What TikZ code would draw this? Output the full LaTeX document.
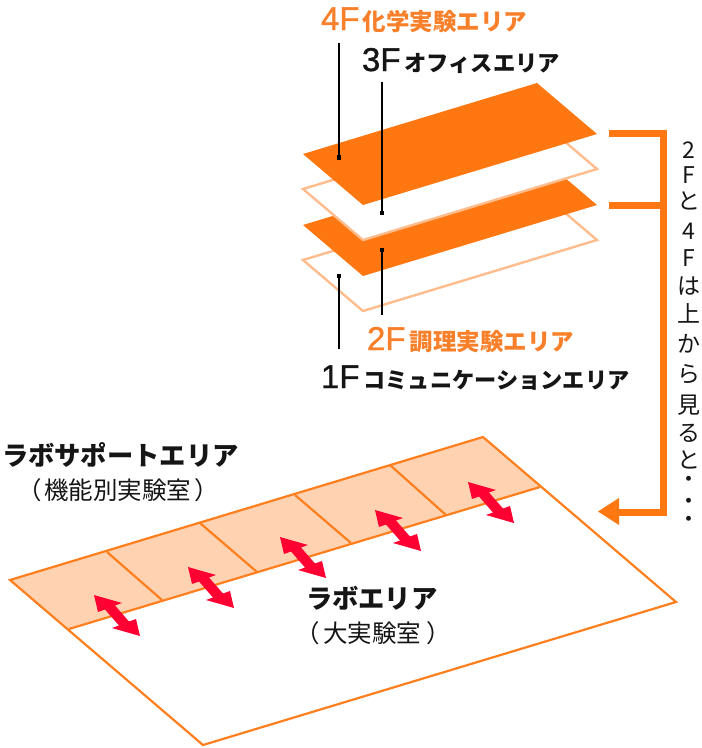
\documentclass[tikz,border=0pt]{standalone}
\usepackage{fontspec}
\usetikzlibrary{calc}
\setmainfont{Noto Sans CJK JP}
\newfontfamily\lat[FakeBold=1.2]{Liberation Sans}
\definecolor{plate}{HTML}{FF7711}
\definecolor{pale}{HTML}{FFBC8C}
\definecolor{band}{HTML}{FFD2B2}
\definecolor{linec}{HTML}{FF7F1E}
\definecolor{txto}{HTML}{F8802A}
\definecolor{redc}{HTML}{FF0033}
\definecolor{ink}{HTML}{151515}
\newcommand{\fsz}[1]{\fontsize{#1}{#1}\selectfont}
\newcommand{\flr}[4]{{\lat\fsz{33}#1}\hspace{#3}{\bfseries\fsz{#4}#2}}
\tikzset{
  x=1pt,y=-1pt,
  txtlabel/.style={anchor=base west,inner sep=0pt,outer sep=0pt},
  solidplate/.style={fill=plate,draw=none},
  openplate/.style={fill=white,draw=pale,line width=2.4pt,line join=miter},
  leader/.style={draw=black,line width=1.1pt},
  dotmark/.style={fill=black},
  floorline/.style={draw=linec,line width=2.2pt,line join=miter},
  bracket/.style={draw=plate,line width=7pt},
  dbl/.style={fill=redc,draw=none}
}
\newcommand{\dblarrow}[1]{\fill[dbl,shift={#1}] (0,0)--(28,8)--(21,10.5)--(35,26.5)--(42,24)--(46,41)--(18,33)--(25,30.5)--(11,14.5)--(4,17)--cycle;}
\begin{document}
\begin{tikzpicture}
\useasboundingbox (0,0) rectangle (702,748);
% upper plates
\draw[openplate] (303,260)--(537,189)--(597,240)--(363,311)--cycle;
\fill[solidplate] (303,225)--(537,154)--(597,205)--(363,276)--cycle;
\draw[openplate] (303,189)--(537,118)--(597,169)--(363,240)--cycle;
\fill[solidplate] (303,154)--(537,83)--(597,134)--(363,205)--cycle;
% leader ends
\coordinate (l4a) at (339,43); \coordinate (l4b) at (339,157.5);
\coordinate (l3a) at (382,82); \coordinate (l3b) at (382,213);
\coordinate (l2a) at (382,250); \coordinate (l2b) at (382,315);
\coordinate (l1a) at (339,276); \coordinate (l1b) at (339,349);
\draw[leader] (l4a)--(l4b); \draw[leader] (l3a)--(l3b);
\draw[leader] (l2a)--(l2b); \draw[leader] (l1a)--(l1b);
\fill[dotmark] ($(l4b)+(-2.2,-2.2)$) rectangle ++(4.4,4.4);
\fill[dotmark] ($(l3b)+(-2.2,-2.2)$) rectangle ++(4.4,4.4);
\fill[dotmark] ($(l2a)+(-2.2,-2.2)$) rectangle ++(4.4,4.4);
\fill[dotmark] ($(l1a)+(-2.2,-2.2)$) rectangle ++(4.4,4.4);
% floor labels
\node[txtlabel,text=txto] (f4) at (321,30) {\flr{4F}{化学実験エリア}{3pt}{23.5}};
\node[txtlabel,text=ink] (f3) at (362,71) {\flr{3F}{オフィスエリア}{4pt}{22.3}};
\node[txtlabel,text=txto] (f2) at (367,350) {\flr{2F}{調理実験エリア}{4pt}{23.5}};
\node[txtlabel,text=ink] (f1) at (321,388) {\flr{1F}{コミュニケーションエリア}{4pt}{22.2}};
% bracket
\coordinate (b1) at (609,133); \coordinate (b2) at (609,205.5);
\coordinate (bt) at (663,129.5); \coordinate (bu) at (663,133); \coordinate (bm) at (663,205.5);
\coordinate (bb) at (663,512); \coordinate (be) at (617,512);
\coordinate (tip) at (598,511.5);
\draw[bracket] (b1)--(bu);
\draw[bracket] (b2)--(bm);
\draw[bracket,line join=miter] (bt)--(bb)--(be);
\fill[plate] (tip)--(619,498)--(619,525)--cycle;
% vertical text
\node[anchor=north,align=center,inner sep=0pt,text=ink,font=\fontsize{23}{28}\selectfont] (vt) at (689,142) {2\\[-3pt]F\\[-2pt]と\\[2pt]4\\[-1pt]F\\は\\上\\[2pt]か\\[2pt]ら\\[3pt]見\\る\\[-1pt]と\\[-9pt]・\\[-6pt]・\\[-10pt]・};
% lab floor
\fill[band] (10,580)--(483,437)--(540,487)--(69,629)--cycle;
\draw[floorline] (10,580)--(483,437)--(676,602)--(203,745)--cycle;
\draw[floorline] (69,629)--(540,487);
\draw[floorline] (107,552)--(162,600);
\draw[floorline] (200,523)--(257,572);
\draw[floorline] (295,495)--(351,543);
\draw[floorline] (390,465)--(446,515);
% red arrows
\dblarrow{(94,595)}
\dblarrow{(188,567)}
\dblarrow{(280,537)}
\dblarrow{(375,510)}
\dblarrow{(468,482)}
% lab labels
\node[txtlabel,text=ink] (sup) at (2,465) {\bfseries\fsz{26.3}ラボサポートエリア};
\node[txtlabel,text=ink] (sup2) at (17,499) {\fsz{24.5}（\hspace{3pt}機能別実験室\hspace{3pt}）};
\node[txtlabel,text=ink] (lab) at (306,608) {\bfseries\fsz{26.3}ラボエリア};
\node[txtlabel,text=ink] (lab2) at (295,642) {\fsz{24.5}（\hspace{4pt}大実験室\hspace{5pt}）};
\end{tikzpicture}
\end{document}
